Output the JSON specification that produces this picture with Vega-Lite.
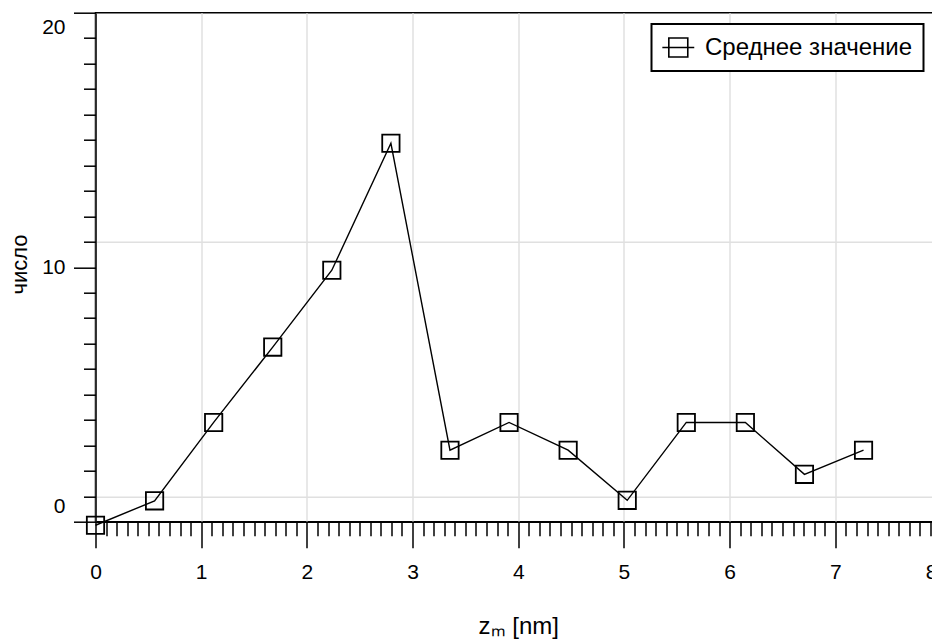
{
  "$schema": "https://vega.github.io/schema/vega-lite/v6.json",
  "width": 845.5,
  "height": 509,
  "autosize": "none",
  "padding": {"left": 95.5, "top": 12.7, "right": -9, "bottom": 119.3},
  "background": "white",
  "config": {
    "font": "Liberation Sans",
    "view": {"stroke": "black", "strokeWidth": 1.5}
  },
  "data": {
    "values": [
      {"z": 0, "n": -0.14, "s": "Среднее значение"},
      {"z": 0.559, "n": 0.82, "s": "Среднее значение"},
      {"z": 1.118, "n": 3.9, "s": "Среднее значение"},
      {"z": 1.677, "n": 6.86, "s": "Среднее значение"},
      {"z": 2.236, "n": 9.88, "s": "Среднее значение"},
      {"z": 2.795, "n": 14.87, "s": "Среднее значение"},
      {"z": 3.354, "n": 2.81, "s": "Среднее значение"},
      {"z": 3.913, "n": 3.9, "s": "Среднее значение"},
      {"z": 4.472, "n": 2.81, "s": "Среднее значение"},
      {"z": 5.031, "n": 0.84, "s": "Среднее значение"},
      {"z": 5.59, "n": 3.9, "s": "Среднее значение"},
      {"z": 6.149, "n": 3.9, "s": "Среднее значение"},
      {"z": 6.708, "n": 1.86, "s": "Среднее значение"},
      {"z": 7.267, "n": 2.81, "s": "Среднее значение"}
    ]
  },
  "mark": {
    "type": "line",
    "strokeWidth": 1.4,
    "point": {"shape": "square", "filled": false, "size": 300, "strokeWidth": 1.8}
  },
  "encoding": {
    "x": {
      "field": "z",
      "type": "quantitative",
      "scale": {"domain": [0, 8], "nice": false, "zero": false},
      "axis": {
        "title": "zₘ [nm]",
        "titleFont": "Liberation Sans",
        "titleFontSize": 24,
        "titleFontWeight": "normal",
        "titleColor": "black",
        "titleBaseline": "alphabetic",
        "titleY": 111.5,
        "tickCount": 500,
        "values": [0,0.1,0.2,0.3,0.4,0.5,0.6,0.7,0.8,0.9,1,1.1,1.2,1.3,1.4,1.5,1.6,1.7,1.8,1.9,2,2.1,2.2,2.3,2.4,2.5,2.6,2.7,2.8,2.9,3,3.1,3.2,3.3,3.4,3.5,3.6,3.7,3.8,3.9,4,4.1,4.2,4.3,4.4,4.5,4.6,4.7,4.8,4.9,5,5.1,5.2,5.3,5.4,5.5,5.6,5.7,5.8,5.9,6,6.1,6.2,6.3,6.4,6.5,6.6,6.7,6.8,6.9,7,7.1,7.2,7.3,7.4,7.5,7.6,7.7,7.8,7.9,8],
        "labelExpr": "datum.value % 1 === 0 ? format(datum.value, 'd') : ''",
        "labelOverlap": false,
        "labelFlush": false,
        "labelBound": false,
        "labelFontSize": 21,
        "labelColor": "black",
        "labelPadding": 14,
        "labelOffset": {"condition": {"test": "datum.value === 8", "value": -10}, "value": 0},
        "tickSize": {"condition": {"test": "datum.value % 1 === 0", "value": 26}, "value": 14},
        "tickWidth": 1.5,
        "tickColor": "black",
        "domainColor": "black",
        "domainWidth": 1.5,
        "grid": true,
        "gridColor": "#e0e0e0",
        "gridWidth": 1.5,
        "gridOpacity": {"condition": {"test": "datum.value % 1 === 0", "value": 1}, "value": 0}
      }
    },
    "y": {
      "field": "n",
      "type": "quantitative",
      "scale": {"domain": [0, 20], "nice": false, "zero": false},
      "axis": {
        "title": "число",
        "titleFont": "Liberation Sans",
        "titleFontSize": 22,
        "titleFontWeight": "normal",
        "titleColor": "black",
        "titleAngle": 270,
        "titleAlign": "center",
        "titleBaseline": "middle",
        "titleX": -76.5,
        "titleY": 251.3,
        "tickCount": 500,
        "values": [0,1,2,3,4,5,6,7,8,9,10,11,12,13,14,15,16,17,18,19,20],
        "labelExpr": "datum.value % 10 === 0 ? format(datum.value, 'd') : ''",
        "labelOverlap": false,
        "labelFlush": false,
        "labelBound": false,
        "labelFontSize": 21,
        "labelColor": "black",
        "labelPadding": 8.5,
        "labelOffset": {"condition": [{"test": "datum.value === 0", "value": -15}, {"test": "datum.value === 20", "value": 15}], "value": 0},
        "tickSize": {"condition": {"test": "datum.value % 10 === 0", "value": 22}, "value": 12},
        "tickWidth": 1.5,
        "tickColor": "black",
        "domainColor": "black",
        "domainWidth": 1.5,
        "grid": true,
        "gridColor": "#e0e0e0",
        "gridWidth": 1.5,
        "gridOpacity": {"condition": {"test": "datum.value === 1 || datum.value === 11", "value": 1}, "value": 0}
      }
    },
    "color": {
      "field": "s",
      "type": "nominal",
      "scale": {"range": ["black"]},
      "legend": {
        "title": null,
        "orient": "none",
        "legendX": 556,
        "legendY": 11.3,
        "symbolType": "M-1.055,0H1.605M-0.515,-0.79H1.065V0.79H-0.515Z",
        "symbolSize": 576,
        "symbolStrokeWidth": 1.6,
        "symbolStrokeColor": "black",
        "symbolFillColor": "transparent",
        "labelFont": "Liberation Sans",
        "labelFontSize": 24,
        "labelColor": "black",
        "labelOffset": 17,
        "labelLimit": 400,
        "padding": 10.5,
        "strokeColor": "black",
        "fillColor": "white",
        "encode": {"legend": {"update": {"strokeWidth": {"value": 2}}}}
      }
    }
  }
}
